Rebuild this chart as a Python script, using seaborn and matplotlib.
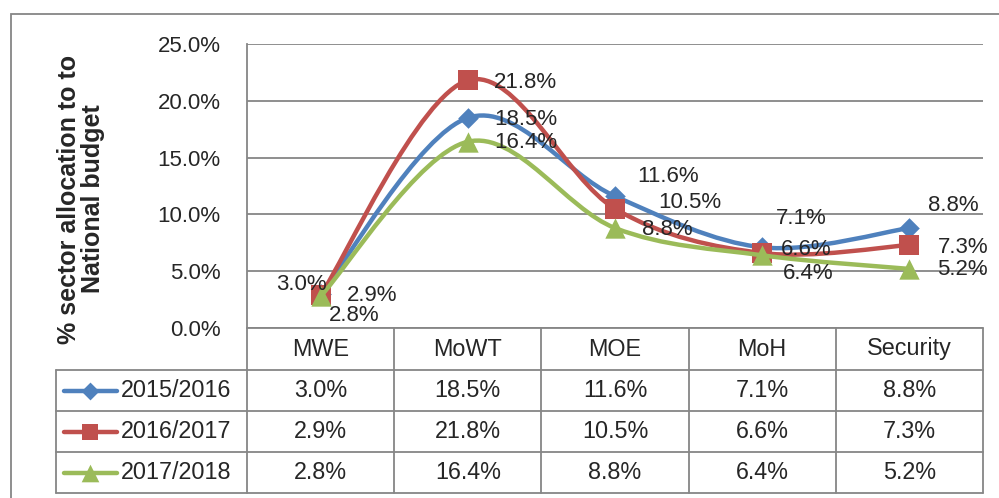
import numpy as np
import pandas as pd
import seaborn as sns
import matplotlib.pyplot as plt
import matplotlib.transforms as mtransforms
from matplotlib.path import Path
from matplotlib.patches import PathPatch, Rectangle
from matplotlib.ticker import FuncFormatter

# === Data ===
sectors = ['MWE', 'MoWT', 'MOE', 'MoH', 'Security']
years = ['2015/2016', '2016/2017', '2017/2018']
fy_2015 = [3.0, 18.5, 11.6, 7.1, 8.8]
fy_2016 = [2.9, 21.8, 10.5, 6.6, 7.3]
fy_2017 = [2.8, 16.4, 8.8, 6.4, 5.2]
y_label = '% sector allocation to to\nNational budget'

series = dict(zip(years, [fy_2015, fy_2016, fy_2017]))
df = pd.DataFrame([
    {'pos': i, 'sector': s, 'year': y, 'value': v}
    for y in years for i, (s, v) in enumerate(zip(sectors, series[y]))
])

# === Style ===
colors = {'2015/2016': '#4F81BD', '2016/2017': '#C0504D', '2017/2018': '#9BBB59'}
markers = {'2015/2016': 'D', '2016/2017': 's', '2017/2018': '^'}
msizes = {'2015/2016': 110, '2016/2017': 190, '2017/2018': 215}
# data label offsets in pixels (left edge of text, vertical centre)
label_offsets = {
    '2015/2016': [(-44, 9), (26, -2), (22, 20), (14, 29), (19, 23)],
    '2016/2017': [(26, 0), (26, -2), (43, 6), (19, 4), (28, -2)],
    '2017/2018': [(8, -19), (26, -1), (27, -1), (21, -18), (28, -1)],
}
grid_col = '#868686'
fs = 16
fs_table = 16.8

sns.set_style('white')
plt.rcParams['font.family'] = ['Liberation Sans', 'DejaVu Sans']

W, H = 999, 498
fig = plt.figure(figsize=(W / 100, H / 100), dpi=100)
ax_l, ax_r, ax_t, ax_b = 247, 983, 44, 328
ax = fig.add_axes([ax_l / W, 1 - ax_b / H, (ax_r - ax_l) / W, (ax_b - ax_t) / H])

# outer chart border
fig.add_artist(Rectangle((11 / W, -0.2), 1.5, 1.2 - 14 / H, transform=fig.transFigure,
                         fill=False, ec=grid_col, lw=1.3))


def smooth_path(xs, ys):
    pts = np.column_stack([xs, ys]).astype(float)
    n = len(pts)
    verts, codes = [pts[0]], [Path.MOVETO]
    for i in range(n - 1):
        p0, p1 = pts[max(i - 1, 0)], pts[i]
        p2, p3 = pts[i + 1], pts[min(i + 2, n - 1)]
        verts += [p1 + (p2 - p0) / 6, p2 - (p3 - p1) / 6, p2]
        codes += [Path.CURVE4] * 3
    return Path(verts, codes)


for k, y in enumerate(years):
    sub = df[df['year'] == y]
    ax.add_patch(PathPatch(smooth_path(sub['pos'], sub['value']), fill=False,
                           ec=colors[y], lw=3.2, capstyle='round', zorder=3 + 2 * k))
    sns.scatterplot(data=sub, x='pos', y='value', marker=markers[y], s=msizes[y],
                    color=colors[y], edgecolor=colors[y], linewidth=0, ax=ax,
                    zorder=4 + 2 * k, legend=False)
    for (_, row), (dx, dy) in zip(sub.iterrows(), label_offsets[y]):
        ax.annotate(f"{row['value']:.1f}%", (row['pos'], row['value']), xytext=(dx, dy),
                    textcoords='offset pixels', ha='left', va='center', fontsize=fs,
                    zorder=10)

ax.set_xlim(-0.5, len(sectors) - 0.5)
ax.set_ylim(0, 25)
ax.set_yticks(np.arange(0, 25.1, 5))
ax.yaxis.set_major_formatter(FuncFormatter(lambda v, p: f'{v:.1f}%'))
ax.tick_params(axis='y', length=0, pad=19, labelsize=fs)
ax.set_xticks([])
ax.set_xlabel('')
ax.set_ylabel('')
ax.grid(axis='y', color=grid_col, lw=1.3)
ax.set_axisbelow(True)
for side in ['top', 'right', 'bottom']:
    ax.spines[side].set_visible(False)
ax.spines['left'].set_color(grid_col)
ax.spines['left'].set_linewidth(1.3)

fig.text(81 / W, 1 - 199 / H, y_label, rotation=90, ha='center', va='center',
         fontsize=18, fontweight='bold', linespacing=1.0)

# === Data table below the plot ===
trans = mtransforms.blended_transform_factory(ax.transData, ax.transAxes)
px_w = (ax_r - ax_l) / len(sectors)


def px_x(px):
    return -0.5 + (px - ax_l) / px_w


def px_y(py):
    return (ax_b - py) / (ax_b - ax_t)


row_edges = [328, 370, 411, 452, 493]
left_x = px_x(56)
line_kw = dict(color=grid_col, lw=1.3, transform=trans, clip_on=False, zorder=1)

ax.plot([-0.5, 4.5], [px_y(row_edges[0])] * 2, **line_kw)
for r in row_edges[1:]:
    ax.plot([left_x, 4.5], [px_y(r)] * 2, **line_kw)
for c in np.arange(-0.5, len(sectors), 1.0):
    ax.plot([c, c], [px_y(row_edges[0]), px_y(row_edges[-1])], **line_kw)
ax.plot([left_x, left_x], [px_y(row_edges[1]), px_y(row_edges[-1])], **line_kw)

hdr_y = px_y((row_edges[0] + row_edges[1]) / 2)
for i, s in enumerate(sectors):
    ax.text(i, hdr_y, s, transform=trans, ha='center', va='center', fontsize=fs_table)

for k, y in enumerate(years):
    cy = px_y((row_edges[k + 1] + row_edges[k + 2]) / 2)
    ax.plot([px_x(64), px_x(117)], [cy, cy], color=colors[y], lw=3.2,
            solid_capstyle='round', transform=trans, clip_on=False)
    ax.scatter([px_x(90)], [cy], marker=markers[y], s=msizes[y] * 0.75, color=colors[y],
               linewidths=0, transform=trans, clip_on=False, zorder=5)
    ax.text(px_x(121), cy, y, transform=trans, ha='left', va='center', fontsize=fs_table)
    for i, v in enumerate(series[y]):
        ax.text(i, cy, f'{v:.1f}%', transform=trans, ha='center', va='center',
                fontsize=fs_table)

fig.savefig('out.png', dpi=100)
